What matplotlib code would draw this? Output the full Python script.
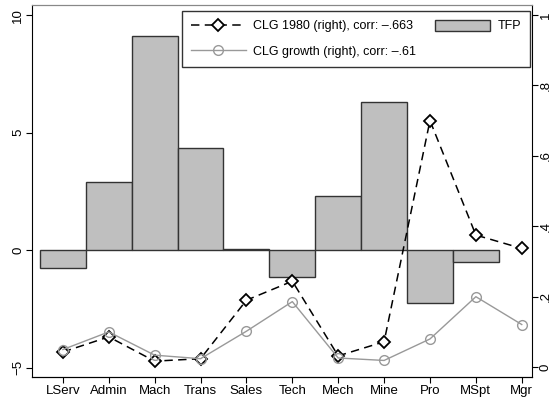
import matplotlib
matplotlib.use("Agg")
import matplotlib.pyplot as plt
import numpy as np

plt.rcParams['font.family'] = ['Liberation Sans', 'DejaVu Sans']

# === DATI ===
categories = ["LServ", "Admin", "Mach", "Trans", "Sales", "Tech",
              "Mech", "Mine", "Pro", "MSpt", "Mgr"]
tfp = [-0.74, 2.91, 9.12, 4.34, 0.03, -1.16, 2.30, 6.30, -2.24, -0.50, np.nan]
clg_1980 = [0.043, 0.086, 0.017, 0.024, 0.19, 0.244, 0.032, 0.072, 0.70, 0.375, 0.337]
clg_growth = [0.050, 0.100, 0.034, 0.024, 0.102, 0.186, 0.026, 0.019, 0.080, 0.200, 0.121]
left_ticks = [-5, 0, 5, 10]
left_labels = ["\u22125", "0", "5", "10"]
right_ticks = [0, 0.2, 0.4, 0.6, 0.8, 1.0]
right_labels = ["0", ".2", ".4", ".6", ".8", "1"]

x = np.arange(1, len(categories) + 1)

fig = plt.figure(figsize=(5.5, 4.03), dpi=100)
ax = fig.add_axes([0.058, 0.0645, 0.909, 0.923])
ax2 = ax.twinx()

# barre TFP
bars = ax.bar(x, tfp, width=1.0, color="#bfbfbf", edgecolor="#333333",
              linewidth=1.0, label="TFP", zorder=2)
ax.set_ylim(-5.40, 10.43)
ax.set_xlim(0.325, 11.22)
ax.set_yticks(left_ticks)
ax.set_yticklabels(left_labels, rotation=90, va="center")
ax.set_xticks(x)
ax.set_xticklabels(categories)

# linee CLG
l1, = ax2.plot(x, clg_1980, color="black", linestyle=(0, (5.5, 3.5)), linewidth=1.1,
               marker="D", markersize=6.5, markerfacecolor="white",
               markeredgecolor="black", markeredgewidth=1.3,
               label="CLG 1980 (right), corr: \u2013.663", zorder=3)
l2, = ax2.plot(x, clg_growth, color="#999999", linewidth=1.0,
               marker="o", markersize=7, markerfacecolor="none",
               markeredgecolor="#999999", markeredgewidth=1.0,
               label="CLG growth (right), corr: \u2013.61", zorder=3)
ax2.set_ylim(-0.028, 1.028)
ax2.set_yticks(right_ticks)
ax2.set_yticklabels(right_labels, rotation=90, va="center")

for a in (ax, ax2):
    a.tick_params(direction="out", length=4, width=0.8, labelsize=9.5, pad=1.5)
    a.spines["top"].set_color("#888888")
ax.spines["right"].set_visible(False)
ax2.spines["left"].set_visible(False)

leg = ax2.legend([l1, l2, bars], [l1.get_label(), l2.get_label(), "TFP"],
                 ncol=2, loc="upper right", bbox_to_anchor=(0.996, 0.984),
                 borderaxespad=0.0,
                 fontsize=9, frameon=True, fancybox=False, edgecolor="black",
                 handlelength=4.4, handleheight=0.95, handletextpad=0.6,
                 columnspacing=1.5, borderpad=0.7, labelspacing=1.05)
leg.get_frame().set_linewidth(1.0)

fig.savefig("out.png", dpi=100)
